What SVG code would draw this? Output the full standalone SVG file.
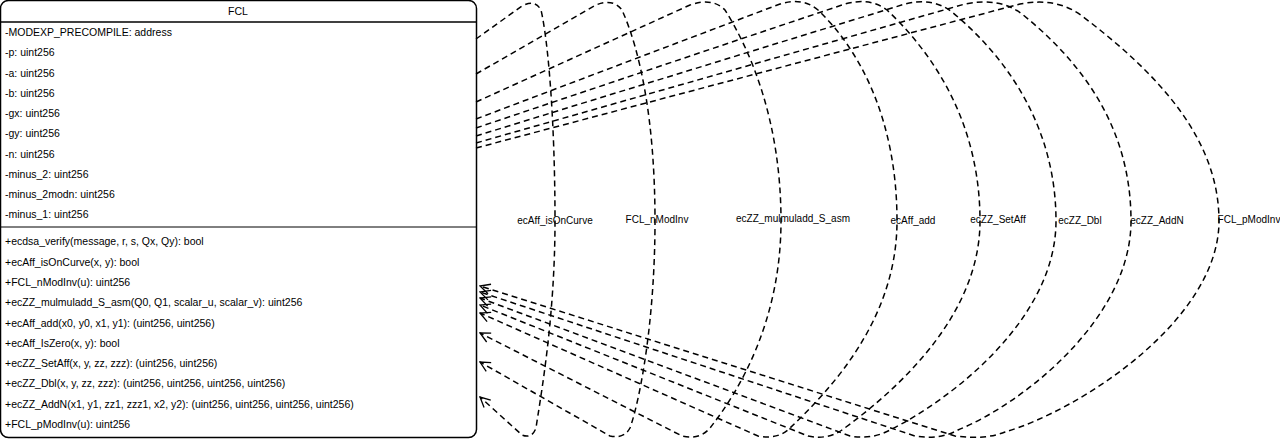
<svg xmlns="http://www.w3.org/2000/svg" width="1280" height="439" viewBox="0 0 1280 439">
<style>
text{font-family:"Liberation Sans",Arial,sans-serif;font-size:10.5px;fill:#000}
.c{fill:none;stroke:#000;stroke-width:1.5;stroke-dasharray:6 4}
.l{text-anchor:middle;font-size:10px}
</style>
<defs>
<marker id="ah" viewBox="0 0 12 12" refX="11" refY="6" markerWidth="12" markerHeight="12" markerUnits="userSpaceOnUse" orient="auto">
<path d="M1,1 L11,6 L1,11" fill="none" stroke="#000" stroke-width="1.3"/>
</marker>
</defs>
<rect width="1280" height="439" fill="#fff"/>
<g id="FCL">
<rect x="0.5" y="0.5" width="476" height="437" rx="8" fill="#fff" stroke="#000" stroke-width="1.5"/>
<line x1="0.5" y1="22" x2="476.5" y2="22" stroke="#000" stroke-width="1.3"/>
<line x1="0.5" y1="227" x2="476.5" y2="227" stroke="#000" stroke-width="1"/>
<text x="238" y="15" text-anchor="middle">FCL</text>
<text x="5" y="36">-MODEXP_PRECOMPILE: address</text>
<text x="5" y="56">-p: uint256</text>
<text x="5" y="77">-a: uint256</text>
<text x="5" y="97">-b: uint256</text>
<text x="5" y="117">-gx: uint256</text>
<text x="5" y="137">-gy: uint256</text>
<text x="5" y="158">-n: uint256</text>
<text x="5" y="178">-minus_2: uint256</text>
<text x="5" y="198">-minus_2modn: uint256</text>
<text x="5" y="218">-minus_1: uint256</text>
<text x="5" y="245">+ecdsa_verify(message, r, s, Qx, Qy): bool</text>
<text x="5" y="266">+ecAff_isOnCurve(x, y): bool</text>
<text x="5" y="286">+FCL_nModInv(u): uint256</text>
<text x="5" y="306">+ecZZ_mulmuladd_S_asm(Q0, Q1, scalar_u, scalar_v): uint256</text>
<text x="5" y="327">+ecAff_add(x0, y0, x1, y1): (uint256, uint256)</text>
<text x="5" y="347">+ecAff_IsZero(x, y): bool</text>
<text x="5" y="367">+ecZZ_SetAff(x, y, zz, zzz): (uint256, uint256)</text>
<text x="5" y="387">+ecZZ_Dbl(x, y, zz, zzz): (uint256, uint256, uint256, uint256)</text>
<text x="5" y="408">+ecZZ_AddN(x1, y1, zz1, zzz1, x2, y2): (uint256, uint256, uint256, uint256)</text>
<text x="5" y="428">+FCL_pModInv(u): uint256</text>
</g>
<g id="connectors">
<path class="c" marker-end="url(#ah)" d="M476,39 L522,6 Q535,-1 541,10 C548,40 555,120 555,221 C555,320 540,400 536,428 Q532,439 522,435 L480,397"/>
<path class="c" marker-end="url(#ah)" d="M476,74 L596,5 Q613,-2 622,10 C640,50 655,120 655,221 C655,320 640,400 630,428 Q624,439 610,436 L480,362"/>
<path class="c" marker-end="url(#ah)" d="M476,102 L690,5 Q712,-3 725,10 C750,50 781,120 781,221 C781,320 740,390 710,428 Q700,440 682,436 L480,333"/>
<path class="c" marker-end="url(#ah)" d="M476,119 L780,4 Q803,-3 818,10 C860,50 897,120 897,221 C897,320 830,390 790,428 Q778,440 758,436 L480,313"/>
<path class="c" marker-end="url(#ah)" d="M476,128 L845,4 Q870,-3 887,10 C940,60 980,130 980,221 C980,320 890,395 842,430 Q828,440 808,436 L480,305"/>
<path class="c" marker-end="url(#ah)" d="M476,136 L905,4 Q933,-3 952,12 C1010,60 1056,130 1056,221 C1056,320 950,400 890,430 Q872,440 850,436 L480,298"/>
<path class="c" marker-end="url(#ah)" d="M476,143 L965,4 Q1000,-3 1022,14 C1085,65 1131,130 1131,221 C1131,320 1020,405 958,430 Q940,440 915,436 L480,292"/>
<path class="c" marker-end="url(#ah)" d="M476,148 L1020,4 Q1057,-3 1082,16 C1160,75 1219,140 1219,221 C1219,320 1080,410 1005,432 Q985,440 955,436 L480,286"/>
<text class="l" x="555" y="224">ecAff_isOnCurve</text>
<text class="l" x="657" y="223">FCL_nModInv</text>
<text class="l" x="793" y="222">ecZZ_mulmuladd_S_asm</text>
<text class="l" x="913" y="224">ecAff_add</text>
<text class="l" x="998" y="223">ecZZ_SetAff</text>
<text class="l" x="1080" y="224">ecZZ_Dbl</text>
<text class="l" x="1157" y="224">ecZZ_AddN</text>
<text class="l" x="1249" y="223">FCL_pModInv</text>
</g>
</svg>
